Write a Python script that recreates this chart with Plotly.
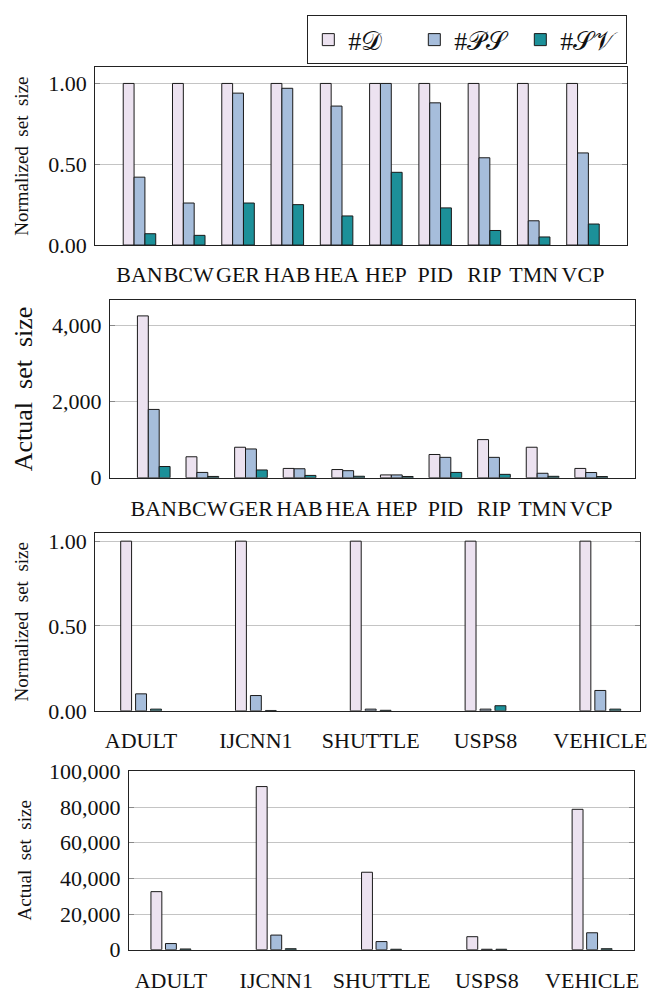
import plotly.graph_objects as go

# ---------------- data ----------------
cats_small = ["BAN", "BCW", "GER", "HAB", "HEA", "HEP", "PID", "RIP", "TMN", "VCP"]
norm_D_small = [1.00, 1.00, 1.00, 1.00, 1.00, 1.00, 1.00, 1.00, 1.00, 1.00]
norm_PS_small = [0.42, 0.26, 0.94, 0.97, 0.86, 1.00, 0.88, 0.54, 0.15, 0.57]
norm_SV_small = [0.07, 0.06, 0.26, 0.25, 0.18, 0.45, 0.23, 0.09, 0.05, 0.13]
act_D_small = [4240, 550, 800, 245, 216, 75, 610, 1000, 800, 245]
act_PS_small = [1790, 140, 755, 237, 186, 75, 535, 535, 118, 138]
act_SV_small = [295, 35, 205, 62, 40, 34, 140, 90, 38, 32]

cats_large = ["ADULT", "IJCNN1", "SHUTTLE", "USPS8", "VEHICLE"]
norm_D_large = [1.00, 1.00, 1.00, 1.00, 1.00]
norm_PS_large = [0.10, 0.09, 0.01, 0.01, 0.12]
norm_SV_large = [0.01, 0.002, 0.003, 0.03, 0.01]
act_D_large = [32560, 91500, 43450, 7300, 78750]
act_PS_large = [3450, 8200, 4550, 250, 9500]
act_SV_large = [400, 550, 250, 250, 550]

series_names = ["#𝒟", "#𝒫𝒮", "#𝒮𝒱"]
colors = ["#ece2f0", "#a6bddb", "#1c9099"]

W, H = 668, 1002
FONT = "Liberation Serif"

fig = go.Figure()

panels = [
    # (xaxis id, yaxis id, cats, [D, PS, SV], width, offsets)
    ("x", "y", cats_small, [norm_D_small, norm_PS_small, norm_SV_small], 0.22, [-0.33, -0.11, 0.11]),
    ("x2", "y2", cats_small, [act_D_small, act_PS_small, act_SV_small], 0.224, [-0.336, -0.112, 0.112]),
    ("x3", "y3", cats_large, [norm_D_large, norm_PS_large, norm_SV_large], 0.095, [-0.1775, -0.0475, 0.0825]),
    ("x4", "y4", cats_large, [act_D_large, act_PS_large, act_SV_large], 0.1035, [-0.19, -0.052, 0.086]),
]

for p, (xa, ya, cats, vals, wd, offs) in enumerate(panels):
    for s in range(3):
        fig.add_trace(go.Bar(
            x=cats, y=vals[s], name=series_names[s],
            xaxis=xa, yaxis=ya,
            width=wd, offset=offs[s],
            marker=dict(color=colors[s], line=dict(color="#1a1a1a", width=1)),
            showlegend=(p == 0),
            legendgroup=series_names[s],
        ))

def px_x(a, b):
    return [a / W, b / W]

def px_y(top, bottom):
    return [1 - bottom / H, 1 - top / H]

xdoms = [px_x(96, 633), px_x(111, 640.7), px_x(96, 646.3), px_x(130, 640)]
ydoms = [px_y(56.7, 239), px_y(295.5, 477.7), px_y(534, 716.7), px_y(778.3, 961.7)]
xranges = [[-0.9, 9.9], [-0.9, 9.9], [-0.4, 4.35], [-0.4, 4.4]]
yranges = [[0, 1.1], [0, 4653], [0, 1.05], [0, 100300]]
ytickvals = [[0, 0.5, 1.0], [0, 2000, 4000], [0, 0.5, 1.0],
             [0, 20000, 40000, 60000, 80000, 100000]]
yformats = [".2f", ",d", ".2f", ",d"]
ytitles = ["Normalized\u00a0 set\u00a0 size", "Actual\u00a0 set\u00a0 size",
           "Normalized\u00a0 set\u00a0 size", "Actual\u00a0 set\u00a0 size"]
ytitle_sizes = [19, 26, 19, 19]
ytitle_standoff = [14, 12, 14, 12]
xticklens = [10, 11, 10, 11]

layout = dict(
    width=W, height=H,
    margin=dict(l=0, r=0, t=0, b=0),
    paper_bgcolor="white", plot_bgcolor="white",
    barmode="group",
    font=dict(family=FONT, size=21, color="#111"),
    legend=dict(
        orientation="h",
        x=633 / W, xanchor="right",
        y=1 - 3.3 / H, yanchor="top",
        bordercolor="#222", borderwidth=1, bgcolor="white",
        font=dict(family=FONT, size=26, color="#111"),
        traceorder="normal",
        entrywidth=61, entrywidthmode="pixels",
    ),
)

for i in range(4):
    sfx = "" if i == 0 else str(i + 1)
    layout["xaxis" + sfx] = dict(
        domain=xdoms[i], range=xranges[i], type="category",
        anchor="y" + sfx,
        showline=True, linecolor="#222", linewidth=1, mirror=True,
        showgrid=False, zeroline=False,
        ticks="outside", ticklen=xticklens[i], tickcolor="rgba(0,0,0,0)",
        tickangle=0,
        tickfont=dict(family=FONT, size=22, color="#111"),
    )
    layout["yaxis" + sfx] = dict(
        domain=ydoms[i], range=yranges[i],
        anchor="x" + sfx,
        showline=True, linecolor="#222", linewidth=1, mirror="allticks",
        showgrid=True, gridcolor="#c4c4c4", gridwidth=1,
        zeroline=False,
        ticks="inside", ticklen=5, tickcolor="#888",
        tickvals=ytickvals[i], tickformat=yformats[i],
        tickfont=dict(family=FONT, size=22, color="#111"),
        ticklabelstandoff=3,
        title=dict(text=ytitles[i], standoff=ytitle_standoff[i],
                   font=dict(family=FONT, size=ytitle_sizes[i], color="#111")),
    )

fig.update_layout(**layout)
fig.write_html(
    "out.html",
    post_script="document.body.style.margin='0';document.body.style.padding='0';",
)
